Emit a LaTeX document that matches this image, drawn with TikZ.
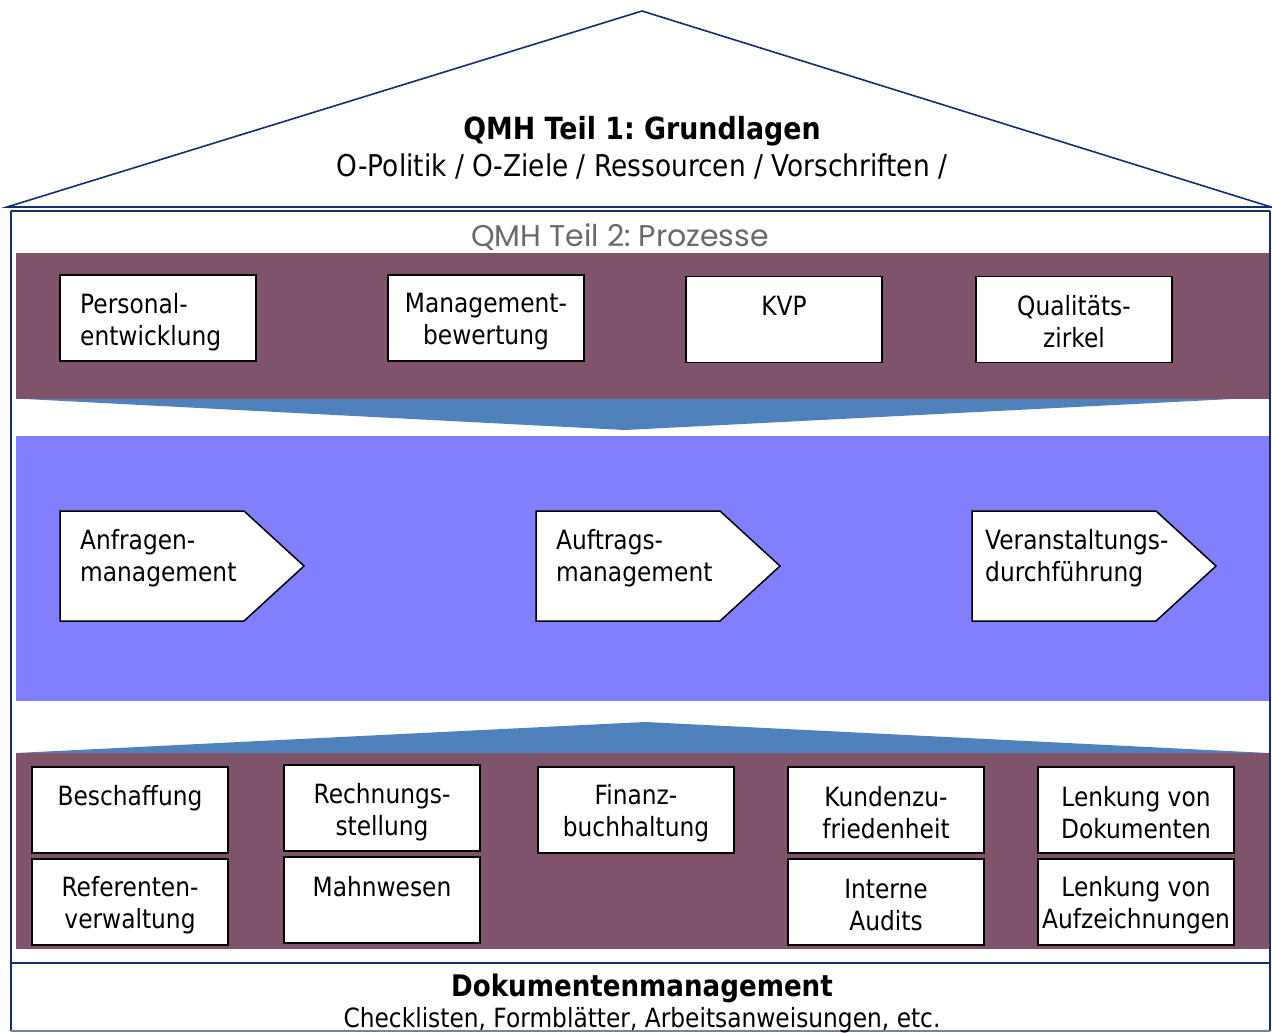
\documentclass[tikz,border=0pt]{standalone}
\usepackage{fontspec}
\setmainfont{DejaVu Sans}[FakeStretch=0.88]
\newfontfamily\gothicfont{Poppins}
\frenchspacing
\definecolor{bandpurple}{RGB}{127,84,106}
\definecolor{wedgeblue}{RGB}{79,129,189}
\definecolor{lavender}{RGB}{128,128,255}
\definecolor{navy}{RGB}{20,45,110}
\definecolor{framegray}{RGB}{110,130,170}
\definecolor{subgray}{RGB}{105,105,105}
\newcommand{\bodysize}{\fontsize{26.5}{32}\selectfont}
\tikzset{
  procbox/.style={draw=black, line width=1.5pt, fill=white, minimum width=196pt,
    minimum height=86pt, inner sep=0pt},
  boxtext/.style={inner sep=0pt, align=center, font=\bodysize},
  arrowshape/.style={draw=black, line width=1.5pt, fill=white},
  arrowtext/.style={anchor=west, text width=220pt, inner sep=0pt, align=left, font=\bodysize},
  frame/.style={draw=navy, line width=1.6pt}
}
\begin{document}
\begin{tikzpicture}[x=1pt,y=-1pt]
\useasboundingbox (0,0) rectangle (1272,1033);
\clip (0,0) rectangle (1272,1033);
\fill[white] (0,0) rectangle (1272,1033);
% bands
\fill[bandpurple] (16,253) rectangle (1270,399);
\fill[wedgeblue] (25,399) -- (1232,399) -- (625,430) -- cycle;
\fill[lavender] (16,436) rectangle (1270,701);
\fill[wedgeblue] (16,753) -- (645,722) -- (1268,753) -- cycle;
\fill[bandpurple] (16,753) rectangle (1270,949);
% frame
\draw[frame, line join=miter] (7,207) -- (642,11) -- (1271,207) -- cycle;
\draw[frame] (11,211) -- (11,1031);
\draw[frame] (1270,211) -- (1270,1031);
\draw[frame] (11,211) -- (1270,211);
\draw[frame] (11,963) -- (1270,963);
\draw[framegray, line width=1.2pt] (11,1031) -- (1270,1031);
% titles
\node[font=\fontsize{30.5}{36}\selectfont\bfseries] (t1) at (642,131) {QMH Teil 1: Grundlagen};
\node[font=\fontsize{30}{36}\selectfont] (t1b) at (642,166) {O-Politik / O-Ziele / Ressourcen / Vorschriften /};
\node[font=\fontsize{30}{34}\selectfont\gothicfont, text=subgray] (t2) at (620,237) {QMH Teil 2: Prozesse};
\node[font=\fontsize{29.7}{34}\selectfont\bfseries] (t3) at (642,988) {Dokumentenmanagement};
\node[font=\bodysize] (t3b) at (642,1020) {Checklisten, Formblätter, Arbeitsanweisungen, etc.};
% top row
\node[procbox] (pe) at (158,318) {};
\node[boxtext, anchor=west, align=left] (pet) at (80,322) {Personal-\\entwicklung};
\node[procbox] (mb) at (486,318) {};
\node[boxtext] (mbt) at (486,322) {Management-\\bewertung};
\node[procbox] (kvp) at (784,319.5) {};
\node[boxtext] (kvpt) at (784,306) {KVP};
\node[procbox] (qz) at (1074,319.5) {};
\node[boxtext] (qzt) at (1074,322) {Qualitäts-\\zirkel};
% arrows
\draw[arrowshape] (60,511) -- (244,511) -- (304,566) -- (244,621) -- (60,621) -- cycle;
\node[arrowtext] (am) at (80,558) {Anfragen-\\management};
\draw[arrowshape] (536,511) -- (720,511) -- (780,566) -- (720,621) -- (536,621) -- cycle;
\node[arrowtext] (au) at (556,558) {Auftrags-\\management};
\draw[arrowshape] (972,511) -- (1156,511) -- (1216,566) -- (1156,621) -- (972,621) -- cycle;
\node[arrowtext] (vd) at (985,558) {Veranstaltungs-\\durchführung};
% bottom row
\node[procbox] (be) at (130,810) {};
\node[boxtext] (bet) at (130,798) {Beschaffung};
\node[procbox] (rv) at (130,902) {};
\node[boxtext] (rvt) at (130,905) {Referenten-\\verwaltung};
\node[procbox] (rs) at (382,808) {};
\node[boxtext] (rst) at (382,812) {Rechnungs-\\stellung};
\node[procbox] (mw) at (382,900) {};
\node[boxtext] (mwt) at (382,887) {Mahnwesen};
\node[procbox] (fb) at (636,810) {};
\node[boxtext] (fbt) at (636,813) {Finanz-\\buchhaltung};
\node[procbox] (kz) at (886,810) {};
\node[boxtext] (kzt) at (886,813) {Kundenzu-\\friedenheit};
\node[procbox] (ia) at (886,902) {};
\node[boxtext] (iat) at (886,905) {Interne\\Audits};
\node[procbox] (ld) at (1136,810) {};
\node[boxtext] (ldt) at (1136,813) {Lenkung von\\Dokumenten};
\node[procbox] (la) at (1136,902) {};
\node[boxtext] (lat) at (1136,905) {Lenkung von\\Aufzeichnungen};
\end{tikzpicture}
\end{document}
